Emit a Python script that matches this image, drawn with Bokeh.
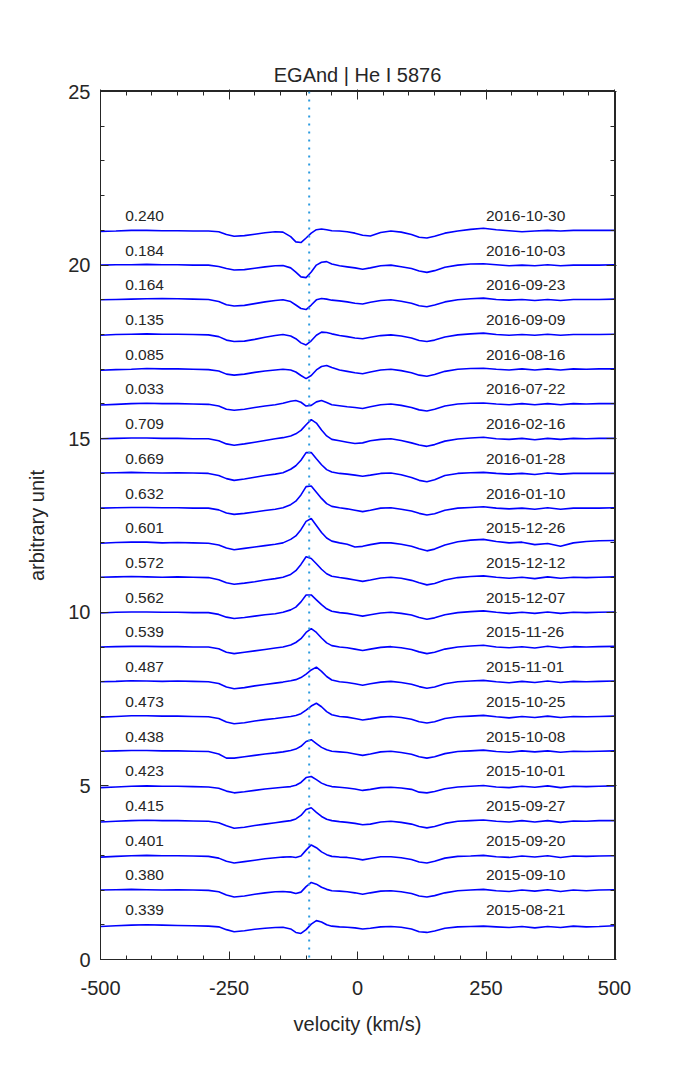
from bokeh.plotting import figure
from bokeh.models import Range1d, FixedTicker, LinearAxis, Span, ColumnDataSource
from bokeh.core.properties import value
from bokeh.embed import file_html
from bokeh.resources import INLINE

# ---------------- data ----------------
velocity = [-500, -470, -440, -410, -380, -350, -320, -290,
            -270, -255, -240, -220, -200, -180, -160, -145,
            -130, -120, -110, -100, -90, -80, -70, -60, -50,
            -35, -20, -5, 10, 25, 45, 65, 85, 105,
            120, 135, 150, 170, 195, 220, 245, 270, 295,
            320, 345, 370, 395, 420, 445, 470, 500]

dates = ["2015-08-21", "2015-09-10", "2015-09-20", "2015-09-27", "2015-10-01",
         "2015-10-08", "2015-10-25", "2015-11-01", "2015-11-26", "2015-12-07",
         "2015-12-12", "2015-12-26", "2016-01-10", "2016-01-28", "2016-02-16",
         "2016-07-22", "2016-08-16", "2016-09-09", "2016-09-23", "2016-10-03",
         "2016-10-30"]
phases = ["0.339", "0.380", "0.401", "0.415", "0.423", "0.438", "0.473", "0.487",
          "0.539", "0.562", "0.572", "0.601", "0.632", "0.669", "0.709", "0.033",
          "0.085", "0.135", "0.164", "0.184", "0.240"]
offsets = [1, 2, 3, 4, 5, 6, 7, 8, 9, 10, 11, 12, 13, 14, 15, 16, 17, 18, 19, 20, 21]

systemic_velocity = -94

# relative flux (normalised flux - 1) for each spectrum, on the velocity grid
s01 = [-0.05, -0.03, -0.01, 0.0, -0.01, -0.02, -0.03, -0.04,
       -0.06, -0.14, -0.2, -0.17, -0.13, -0.1, -0.08, -0.07,
       -0.12, -0.22, -0.25, -0.14, 0.02, 0.12, 0.08, 0.0, -0.04,
       -0.06, -0.07, -0.09, -0.12, -0.1, -0.06, -0.05, -0.07, -0.12,
       -0.2, -0.22, -0.18, -0.1, -0.06, -0.05, -0.04, -0.06, -0.08,
       -0.05, -0.09, -0.05, -0.08, -0.04, -0.06, -0.05, -0.03]
s02 = [0.0, 0.01, 0.02, 0.01, 0.0, 0.01, 0.0, -0.01,
       -0.05, -0.14, -0.2, -0.17, -0.12, -0.08, -0.05, -0.04,
       -0.06, -0.1, -0.06, 0.1, 0.22, 0.17, 0.08, 0.02, -0.02,
       -0.03, -0.05, -0.08, -0.12, -0.08, -0.03, -0.02, -0.05, -0.1,
       -0.17, -0.2, -0.16, -0.08, -0.02, 0.0, 0.02, -0.02, -0.04,
       0.0, -0.03, 0.01, -0.04, 0.0, -0.02, 0.0, 0.01]
s03 = [-0.05, -0.03, -0.01, 0.0, -0.01, -0.01, -0.02, -0.03,
       -0.08, -0.17, -0.22, -0.18, -0.14, -0.1, -0.07, -0.05,
       -0.04, -0.06, -0.02, 0.15, 0.3, 0.22, 0.1, 0.02, -0.03,
       -0.05, -0.06, -0.09, -0.13, -0.09, -0.04, -0.04, -0.07, -0.12,
       -0.19, -0.22, -0.17, -0.08, -0.03, -0.02, 0.0, -0.04, -0.06,
       -0.02, -0.05, -0.01, -0.06, -0.02, -0.03, -0.02, -0.01]
s04 = [-0.04, -0.02, 0.0, 0.01, 0.0, 0.0, -0.01, -0.02,
       -0.06, -0.15, -0.22, -0.19, -0.14, -0.1, -0.06, -0.03,
       0.0, 0.05, 0.15, 0.32, 0.37, 0.24, 0.12, 0.04, 0.0,
       -0.03, -0.05, -0.08, -0.12, -0.1, -0.04, -0.02, -0.05, -0.1,
       -0.17, -0.21, -0.17, -0.08, -0.02, 0.0, 0.02, -0.02, -0.04,
       0.0, -0.04, 0.0, -0.05, -0.01, -0.02, 0.0, 0.0]
s05 = [-0.05, -0.03, -0.01, 0.0, -0.01, -0.01, -0.02, -0.03,
       -0.07, -0.15, -0.2, -0.17, -0.13, -0.09, -0.06, -0.04,
       -0.02, 0.02, 0.1, 0.24, 0.27, 0.18, 0.08, 0.02, -0.02,
       -0.04, -0.06, -0.09, -0.13, -0.1, -0.05, -0.04, -0.06, -0.1,
       -0.18, -0.2, -0.16, -0.08, -0.03, -0.01, 0.01, -0.03, -0.05,
       -0.01, -0.04, 0.0, -0.05, -0.01, -0.02, -0.01, 0.0]
s06 = [0.0, 0.01, 0.02, 0.02, 0.01, 0.01, 0.0, -0.01,
       -0.08, -0.2, -0.2, -0.16, -0.12, -0.08, -0.05, -0.02,
       0.02, 0.06, 0.14, 0.28, 0.33, 0.22, 0.11, 0.04, 0.0,
       -0.02, -0.04, -0.08, -0.12, -0.08, -0.02, 0.0, -0.04, -0.09,
       -0.16, -0.2, -0.16, -0.07, -0.01, 0.01, 0.03, -0.01, -0.03,
       0.01, -0.02, 0.01, -0.03, 0.0, -0.01, 0.0, 0.01]
s07 = [-0.02, 0.0, 0.02, 0.02, 0.01, 0.01, 0.0, -0.01,
       -0.06, -0.16, -0.21, -0.18, -0.13, -0.09, -0.06, -0.03,
       0.0, 0.03, 0.08, 0.18, 0.3, 0.38, 0.28, 0.14, 0.05,
       0.0, -0.02, -0.06, -0.1, -0.07, -0.02, 0.0, -0.03, -0.08,
       -0.15, -0.19, -0.15, -0.06, -0.01, 0.01, 0.03, -0.01, -0.04,
       0.0, -0.03, 0.01, -0.03, 0.0, -0.01, 0.0, 0.01]
s08 = [0.0, 0.01, 0.03, 0.02, 0.01, 0.02, 0.01, 0.0,
       -0.05, -0.15, -0.2, -0.17, -0.12, -0.08, -0.04, -0.01,
       0.03, 0.06, 0.12, 0.22, 0.34, 0.42, 0.3, 0.15, 0.05,
       0.0, -0.02, -0.06, -0.1, -0.06, -0.01, 0.01, -0.02, -0.07,
       -0.14, -0.19, -0.15, -0.06, 0.0, 0.02, 0.04, 0.0, -0.03,
       0.01, -0.02, 0.02, -0.02, 0.01, 0.0, 0.01, 0.02]
s09 = [0.0, 0.01, 0.02, 0.02, 0.01, 0.01, 0.0, 0.0,
       -0.05, -0.15, -0.19, -0.15, -0.11, -0.07, -0.03, 0.0,
       0.06, 0.13, 0.24, 0.42, 0.53, 0.42, 0.26, 0.12, 0.04,
       0.0, -0.02, -0.06, -0.1, -0.06, -0.01, 0.01, -0.02, -0.07,
       -0.14, -0.19, -0.15, -0.06, 0.0, 0.03, 0.05, 0.0, -0.02,
       0.01, -0.03, 0.02, -0.02, 0.01, 0.0, 0.01, 0.02]
s10 = [-0.02, 0.0, 0.01, 0.01, 0.0, 0.0, -0.01, -0.01,
       -0.06, -0.14, -0.18, -0.15, -0.11, -0.07, -0.04, 0.0,
       0.07, 0.15, 0.3, 0.5, 0.5, 0.36, 0.22, 0.1, 0.03,
       -0.01, -0.03, -0.07, -0.11, -0.07, -0.02, 0.0, -0.03, -0.08,
       -0.15, -0.2, -0.16, -0.07, -0.01, 0.02, 0.04, 0.0, -0.03,
       0.0, -0.03, 0.01, -0.03, 0.0, -0.01, 0.0, 0.01]
s11 = [0.01, 0.02, 0.03, 0.02, 0.01, 0.02, 0.01, 0.0,
       -0.06, -0.15, -0.19, -0.16, -0.12, -0.07, -0.03, 0.01,
       0.09, 0.2, 0.38, 0.6, 0.55, 0.4, 0.24, 0.11, 0.04,
       0.0, -0.03, -0.07, -0.11, -0.07, -0.01, 0.01, -0.02, -0.08,
       -0.15, -0.21, -0.17, -0.07, 0.0, 0.03, 0.05, 0.01, -0.02,
       0.01, -0.03, 0.02, -0.02, 0.01, 0.0, 0.01, 0.02]
s12 = [-0.01, 0.01, 0.02, 0.02, 0.0, 0.01, 0.0, -0.01,
       -0.06, -0.15, -0.2, -0.16, -0.12, -0.08, -0.04, 0.0,
       0.1, 0.2, 0.38, 0.62, 0.7, 0.5, 0.3, 0.14, 0.05,
       0.0, -0.04, -0.12, -0.1, -0.05, 0.0, 0.0, -0.04, -0.1,
       -0.17, -0.23, -0.18, -0.06, 0.03, 0.08, 0.1, 0.04, 0.0,
       0.02, -0.05, -0.02, -0.1, 0.0, 0.04, 0.06, 0.07]
s13 = [0.0, 0.01, 0.02, 0.02, 0.01, 0.01, 0.0, 0.0,
       -0.05, -0.14, -0.18, -0.15, -0.11, -0.07, -0.03, 0.01,
       0.1, 0.2, 0.38, 0.62, 0.64, 0.46, 0.28, 0.13, 0.05,
       0.01, -0.02, -0.06, -0.1, -0.06, 0.0, 0.01, -0.03, -0.08,
       -0.15, -0.2, -0.16, -0.06, 0.0, 0.02, 0.04, 0.0, -0.02,
       0.0, -0.03, 0.01, -0.03, 0.0, 0.0, 0.0, 0.01]
s14 = [0.01, 0.02, 0.03, 0.02, 0.01, 0.02, 0.01, 0.0,
       -0.06, -0.15, -0.2, -0.16, -0.11, -0.06, -0.02, 0.02,
       0.12, 0.22, 0.38, 0.6, 0.6, 0.42, 0.25, 0.11, 0.04,
       0.0, -0.02, -0.05, -0.08, -0.05, 0.0, 0.01, -0.04, -0.12,
       -0.2, -0.24, -0.18, -0.06, 0.0, 0.02, 0.03, 0.0, -0.02,
       0.0, -0.03, 0.01, -0.02, 0.0, 0.0, 0.0, 0.0]
s15 = [0.0, 0.01, 0.02, 0.02, 0.01, 0.01, 0.0, 0.0,
       -0.06, -0.15, -0.19, -0.15, -0.1, -0.05, 0.0, 0.03,
       0.08, 0.14, 0.24, 0.4, 0.55, 0.45, 0.25, 0.08, -0.02,
       -0.06, -0.1, -0.14, -0.12, -0.06, -0.02, 0.0, -0.05, -0.12,
       -0.18, -0.22, -0.17, -0.07, -0.01, 0.02, 0.04, 0.0, -0.02,
       0.01, -0.03, 0.01, -0.02, 0.01, 0.0, 0.01, 0.01]
s16 = [-0.03, -0.01, 0.01, 0.02, 0.01, 0.01, 0.0, -0.01,
       -0.06, -0.15, -0.18, -0.15, -0.1, -0.06, -0.02, 0.02,
       0.08, 0.1, 0.05, -0.06, -0.04, 0.06, 0.1, 0.04, -0.02,
       -0.05, -0.08, -0.1, -0.13, -0.08, -0.02, 0.0, -0.04, -0.1,
       -0.17, -0.2, -0.15, -0.06, 0.0, 0.02, 0.03, 0.0, -0.02,
       0.01, -0.02, 0.01, -0.02, 0.01, 0.0, 0.01, 0.01]
s17 = [-0.03, -0.01, 0.0, 0.02, 0.01, 0.01, 0.0, -0.01,
       -0.05, -0.14, -0.17, -0.14, -0.09, -0.05, -0.02, 0.0,
       -0.02, -0.08, -0.18, -0.27, -0.18, -0.02, 0.08, 0.11, 0.05,
       -0.02, -0.06, -0.1, -0.13, -0.08, -0.02, 0.0, -0.04, -0.1,
       -0.17, -0.2, -0.15, -0.06, 0.0, 0.02, 0.03, 0.0, -0.02,
       0.01, -0.02, 0.01, -0.02, 0.01, 0.0, 0.01, 0.01]
s18 = [-0.02, 0.0, 0.01, 0.02, 0.01, 0.01, 0.0, -0.01,
       -0.06, -0.16, -0.2, -0.19, -0.14, -0.08, -0.03, 0.0,
       -0.04, -0.12, -0.24, -0.3, -0.18, -0.02, 0.07, 0.06, 0.02,
       -0.03, -0.06, -0.1, -0.12, -0.08, -0.03, -0.01, -0.04, -0.1,
       -0.17, -0.2, -0.16, -0.07, -0.01, 0.02, 0.04, 0.0, -0.02,
       0.0, -0.02, 0.01, -0.02, 0.0, 0.0, 0.0, 0.01]
s19 = [0.0, 0.01, 0.02, 0.03, 0.04, 0.03, 0.02, 0.01,
       -0.05, -0.14, -0.18, -0.16, -0.11, -0.06, -0.02, 0.0,
       -0.05, -0.15, -0.25, -0.28, -0.15, 0.0, 0.04, 0.02, -0.01,
       -0.03, -0.06, -0.1, -0.12, -0.07, -0.02, 0.0, -0.04, -0.1,
       -0.17, -0.2, -0.15, -0.06, 0.0, 0.03, 0.05, 0.01, -0.01,
       0.01, -0.02, 0.01, -0.02, 0.01, 0.01, 0.01, 0.02]
s20 = [0.0, 0.01, 0.01, 0.02, 0.01, 0.01, 0.0, 0.0,
       -0.04, -0.1, -0.14, -0.13, -0.09, -0.05, -0.02, -0.01,
       -0.08, -0.2, -0.34, -0.36, -0.2, 0.0, 0.08, 0.1, 0.03,
       -0.02, -0.05, -0.08, -0.12, -0.08, -0.02, 0.0, -0.05, -0.1,
       -0.17, -0.21, -0.16, -0.06, 0.0, 0.03, 0.04, 0.01, -0.02,
       0.0, -0.02, 0.01, -0.02, 0.0, 0.0, 0.0, 0.01]
s21 = [-0.03, -0.02, 0.0, 0.0, -0.01, -0.01, -0.02, -0.02,
       -0.04, -0.12, -0.17, -0.15, -0.11, -0.07, -0.04, -0.05,
       -0.18, -0.33, -0.35, -0.22, -0.08, 0.02, 0.04, 0.02, -0.01,
       -0.02, -0.04, -0.08, -0.14, -0.16, -0.06, -0.02, -0.05, -0.12,
       -0.2, -0.22, -0.17, -0.08, -0.02, 0.03, 0.06, 0.02, -0.01,
       -0.04, -0.02, 0.0, -0.02, 0.0, 0.0, 0.0, 0.0]

spectra = [s01, s02, s03, s04, s05, s06, s07, s08, s09, s10, s11,
           s12, s13, s14, s15, s16, s17, s18, s19, s20, s21]

x_major = [-500, -250, 0, 250, 500]
x_major_labels = ["-500", "-250", "0", "250", "500"]
x_minor = [-450, -400, -350, -300, -200, -150, -100, -50,
           50, 100, 150, 200, 300, 350, 400, 450]
y_major = [0, 5, 10, 15, 20, 25]
y_minor = [1, 2, 3, 4, 6, 7, 8, 9, 11, 12, 13, 14, 16, 17, 18, 19, 21, 22, 23, 24]

# ---------------- styling ----------------
FONT = "Liberation Sans"
INK = "#262626"
BLUE = "#0000ff"

p = figure(width=667, height=1064, output_backend="svg", toolbar_location=None,
           x_range=Range1d(-500, 500), y_range=Range1d(0, 25),
           x_axis_location=None, y_axis_location=None,
           min_border_left=100, min_border_right=53,
           min_border_top=91, min_border_bottom=105)
p.background_fill_color = "white"
p.border_fill_color = "white"
p.outline_line_color = INK
p.outline_line_width = 1
p.xgrid.visible = False
p.ygrid.visible = False

p.title.text = "EGAnd | He I 5876"
p.title.align = "center"
p.title.text_font = FONT
p.title.text_font_style = "normal"
p.title.text_font_size = "20px"
p.title.text_color = INK
p.title.standoff = 8


def style_axis(ax):
    ax.axis_line_color = INK
    ax.major_tick_line_color = INK
    ax.minor_tick_line_color = INK
    ax.major_tick_in = 8
    ax.major_tick_out = 0
    ax.minor_tick_in = 4
    ax.minor_tick_out = 0
    ax.major_label_text_font = FONT
    ax.major_label_text_color = INK
    ax.major_label_text_font_size = "20px"
    ax.axis_label_text_font = FONT
    ax.axis_label_text_font_style = "normal"
    ax.axis_label_text_color = INK
    ax.axis_label_text_font_size = "20px"


def mirror_axis(positions, length, side):
    # label-free box axis: the tick positions are given as "minor" ticks only
    ax = LinearAxis(ticker=FixedTicker(ticks=[], minor_ticks=positions))
    ax.axis_line_color = INK
    ax.minor_tick_line_color = INK
    ax.minor_tick_line_width = 1
    ax.minor_tick_in = length
    ax.minor_tick_out = 1
    ax.major_tick_in = 0
    ax.major_tick_out = 1
    ax.major_label_standoff = 0
    ax.axis_label_standoff = 0
    p.add_layout(ax, side)


xb = LinearAxis(ticker=FixedTicker(ticks=x_major, minor_ticks=x_minor),
                axis_label="velocity (km/s)")
style_axis(xb)
xb.major_label_overrides = {v: t for v, t in zip(x_major, x_major_labels)}
xb.major_label_standoff = 21
xb.axis_label_standoff = 15
p.add_layout(xb, "below")

yl = LinearAxis(ticker=FixedTicker(ticks=y_major, minor_ticks=y_minor),
                axis_label="arbitrary unit")
style_axis(yl)
yl.major_label_standoff = 10
yl.axis_label_standoff = 17
p.add_layout(yl, "left")

mirror_axis(x_minor, 4, "above")
mirror_axis(x_major, 9, "above")
mirror_axis(y_minor, 4, "right")
mirror_axis(y_major, 9, "right")

# spectra
for off, flux in zip(offsets, spectra):
    ys = [off + f for f in flux]
    p.line(velocity, ys, line_color=BLUE, line_width=1.6)

# systemic velocity marker
p.add_layout(Span(location=systemic_velocity, dimension="height",
                  line_color="#2b9be0", line_width=2, line_dash="2 6"))

# labels
lab = ColumnDataSource(dict(
    xp=[-452] * len(offsets),
    xd=[250] * len(offsets),
    y=[o + 0.42 for o in offsets],
    phase=phases,
    date=dates,
))
p.text(x="xp", y="y", text="phase", source=lab, text_font=value(FONT),
       text_font_size="15.5px", text_color=INK, text_align="left",
       text_baseline="middle")
p.text(x="xd", y="y", text="date", source=lab, text_font=value(FONT),
       text_font_size="15.5px", text_color=INK, text_align="left",
       text_baseline="middle")

open("out.html", "w").write(file_html(p, INLINE))
